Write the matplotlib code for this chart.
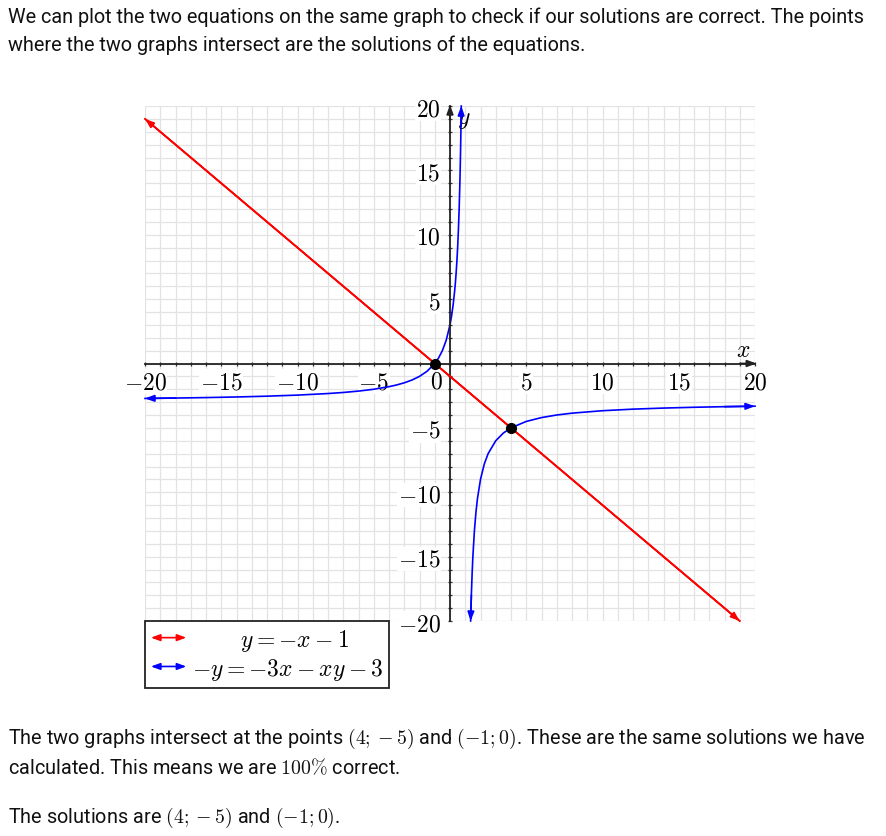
import matplotlib.pyplot as plt
from matplotlib.legend_handler import HandlerBase
from matplotlib.patches import FancyArrowPatch
from matplotlib.lines import Line2D

plt.rcParams['mathtext.fontset'] = 'cm'
plt.rcParams['font.family'] = ['Roboto', 'DejaVu Sans']

# red line y = -x - 1 (end points)
line_x = [-20, 19]
line_y = [19, -20]

# blue curve, left branch
left_x = [-20, -18, -16, -14, -12, -10, -8, -7, -6, -5, -4, -3.5, -3, -2.5, -2,
          -1.5, -1, -0.75, -0.5, -0.25, 0, 0.1, 0.2, 0.3, 0.35, 0.4, 0.45, 0.5,
          0.55, 0.6, 0.65, 0.67, 0.7, 0.72, 0.739]
left_y = [-2.714, -2.684, -2.647, -2.6, -2.538, -2.455, -2.333, -2.25, -2.143, -2.0,
          -1.8, -1.667, -1.5, -1.286, -1.0, -0.6, 0.0, 0.429, 1.0, 1.8, 3.0, 3.667,
          4.5, 5.571, 6.231, 7.0, 7.909, 9.0, 10.333, 12.0, 14.143, 15.18, 17.0,
          18.43, 20.0]

# blue curve, right branch
right_x = [1.353, 1.4, 1.45, 1.5, 1.6, 1.7, 1.8, 2.0, 2.25, 2.5, 3.0, 3.5, 4.0, 5.0,
           6.0, 7.0, 8.0, 10.0, 12.0, 14.0, 16.0, 18.0, 20.0]
right_y = [-20.0, -18.0, -16.333, -15.0, -13.0, -11.571, -10.5, -9.0, -7.8, -7.0,
           -6.0, -5.4, -5.0, -4.5, -4.2, -4.0, -3.857, -3.667, -3.545, -3.462, -3.4,
           -3.353, -3.316]

# intersection points
sol_x = [-1, 4]
sol_y = [0, -5]

ticks = [-20, -15, -10, -5, 0, 5, 10, 15, 20]
labels = ['$-20$', '$-15$', '$-10$', '$-5$', '$0$', '$5$', '$10$', '$15$', '$20$']
grid_steps = list(range(-20, 21))

HEAD = '-|>,head_length=0.6,head_width=0.22'


class HandlerDoubleArrow(HandlerBase):
    def create_artists(self, legend, orig_handle, xdescent, ydescent,
                       width, height, fontsize, trans):
        y = height / 2 - ydescent
        p = FancyArrowPatch((-xdescent, y), (-xdescent + width, y),
                            arrowstyle='<|-|>,head_length=0.6,head_width=0.22',
                            mutation_scale=9, color=orig_handle.get_color(),
                            lw=1.2, transform=trans, shrinkA=0, shrinkB=0)
        return [p]


fig = plt.figure(figsize=(8.87, 8.37), dpi=100)
ax = fig.add_axes([145 / 887, 215 / 837, 610 / 887, 515 / 837])
ax.set_xlim(-20, 20)
ax.set_ylim(-20, 20)

# grid, kept below the axis so the labels can cover it
ax.vlines(grid_steps, -20, 20, color='#e3e3e3', lw=0.9, zorder=0.1)
ax.hlines(grid_steps, -20, 20, color='#e3e3e3', lw=0.9, zorder=0.1)
ax.set_axisbelow(True)

# axes through the origin
for s in ['top', 'right']:
    ax.spines[s].set_visible(False)
ax.spines['left'].set_position(('data', 0))
ax.spines['bottom'].set_position(('data', 0))
ax.spines['left'].set_linewidth(1.3)
ax.spines['bottom'].set_linewidth(1.3)
ax.spines['left'].set_color('#222222')
ax.spines['bottom'].set_color('#222222')
ax.set_xticks(grid_steps, minor=True)
ax.set_yticks(grid_steps, minor=True)
ax.tick_params(which='both', direction='inout', length=3.5, width=0.9,
               color='#333333', labelsize=17)
ax.tick_params(axis='x', pad=3)
ax.tick_params(axis='y', pad=5)
ax.set_xticks(ticks)
ax.set_xticklabels([l if t != 0 else '' for t, l in zip(ticks, labels)])
ax.set_yticks(ticks)
ax.set_yticklabels([l if t != 0 else '' for t, l in zip(ticks, labels)])
for lbl in ax.get_xticklabels() + ax.get_yticklabels():
    lbl.set_bbox(dict(facecolor='white', edgecolor='none', pad=0.5))
ax.annotate('$0$', xy=(0, 0), xytext=(-9.5, -12.5), textcoords='offset points',
            ha='center', va='center', fontsize=17)
ax.annotate('', xy=(20.1, 0), xytext=(19, 0),
            arrowprops=dict(arrowstyle=HEAD, color='#222222', lw=1.3,
                            shrinkA=0, shrinkB=0, mutation_scale=9),
            annotation_clip=False)
ax.annotate('', xy=(0, 20.1), xytext=(0, 19),
            arrowprops=dict(arrowstyle=HEAD, color='#222222', lw=1.3,
                            shrinkA=0, shrinkB=0, mutation_scale=9),
            annotation_clip=False)
ax.text(19.2, 1.1, '$x$', fontsize=17, ha='center', va='center')
ax.text(0.9, 19.0, '$y$', fontsize=17, ha='center', va='center')

# curves
ax.plot(line_x, line_y, color='red', lw=1.2, clip_on=False)
ax.plot(left_x, left_y, color='blue', lw=1.2, clip_on=False)
ax.plot(right_x, right_y, color='blue', lw=1.2, clip_on=False)


def end_arrow(xs, ys, i, j, color):
    ax.annotate('', xy=(xs[i], ys[i]), xytext=(xs[j], ys[j]),
                arrowprops=dict(arrowstyle=HEAD, color=color, lw=1.2,
                                shrinkA=0, shrinkB=0, mutation_scale=9),
                annotation_clip=False)


end_arrow(line_x, line_y, 0, 1, 'red')
end_arrow(line_x, line_y, 1, 0, 'red')
end_arrow(left_x, left_y, 0, 1, 'blue')
end_arrow(left_x, left_y, -1, -2, 'blue')
end_arrow(right_x, right_y, 0, 1, 'blue')
end_arrow(right_x, right_y, -1, -2, 'blue')

ax.plot(sol_x, sol_y, 'o', color='black', ms=7, zorder=5, clip_on=False)

# legend
h1 = Line2D([], [], color='red')
h2 = Line2D([], [], color='blue')
leg = ax.legend([h1, h2], [r'$\qquad\ y = -x - 1$', r'$-y = -3x - xy - 3$'],
                handler_map={Line2D: HandlerDoubleArrow()},
                loc='upper left', bbox_to_anchor=(0, 0), borderaxespad=0,
                fontsize=17, fancybox=False, edgecolor='#222222', framealpha=1,
                handlelength=1.5, handletextpad=0.25, labelspacing=0.12,
                borderpad=0.25)
leg.get_frame().set_linewidth(1.3)

# surrounding text
txt = dict(fontsize=14.3, color='#111111', va='center', ha='left')
fig.text(8 / 887, 1 - 17 / 837,
         'We can plot the two equations on the same graph to check if our solutions are correct. The points', **txt)
fig.text(8 / 887, 1 - 45 / 837,
         'where the two graphs intersect are the solutions of the equations.', **txt)
fig.text(8 / 887, 1 - 739 / 837,
         'The two graphs intersect at the points $(4; -5)$ and $(-1; 0)$. These are the same solutions we have', **txt)
fig.text(8 / 887, 1 - 768 / 837,
         'calculated. This means we are $100\\%$ correct.', **txt)
fig.text(8 / 887, 1 - 818 / 837,
         'The solutions are $(4; -5)$ and $(-1; 0)$.', **txt)

fig.savefig('out.png', dpi=100)
